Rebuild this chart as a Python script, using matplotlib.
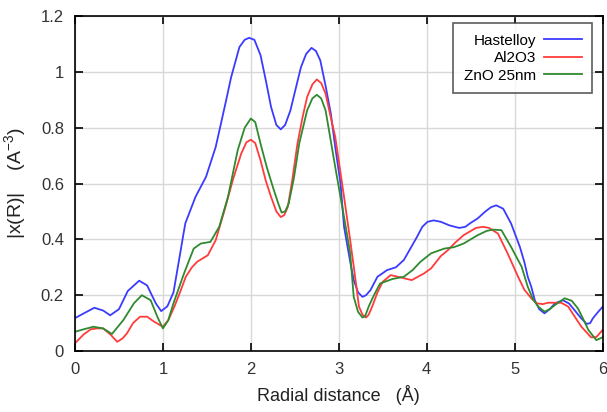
import matplotlib
matplotlib.use("Agg")
import matplotlib.pyplot as plt

# Hastelloy
x_blue = [0.0, 0.1, 0.22, 0.32, 0.4, 0.5, 0.6, 0.73, 0.82, 0.92, 0.98, 1.05, 1.12, 1.18, 1.235, 1.255,
          1.37, 1.49, 1.6, 1.66, 1.72, 1.775, 1.87, 1.93, 1.98, 2.04, 2.11, 2.17, 2.23, 2.29, 2.34, 2.39,
          2.45, 2.51, 2.57, 2.63, 2.69, 2.74, 2.79, 2.85, 2.91, 2.96, 3.02, 3.06, 3.13, 3.17, 3.22, 3.27,
          3.31, 3.36, 3.44, 3.55, 3.65, 3.74, 3.82, 3.89, 3.95, 4.01, 4.08, 4.16, 4.26, 4.37, 4.44, 4.5,
          4.58, 4.66, 4.73, 4.79, 4.87, 4.96, 5.06, 5.11, 5.15, 5.19, 5.23, 5.28, 5.34, 5.4, 5.46, 5.55,
          5.62, 5.68, 5.75, 5.82, 5.86, 5.89, 5.95, 6.0]
y_blue = [0.118, 0.135, 0.155, 0.145, 0.128, 0.15, 0.215, 0.252, 0.235, 0.17, 0.143, 0.16, 0.21, 0.32, 0.422, 0.458,
          0.552, 0.624, 0.731, 0.815, 0.9, 0.98, 1.089, 1.115, 1.122, 1.115, 1.06, 0.97, 0.874, 0.81, 0.794, 0.81,
          0.862, 0.94, 1.017, 1.065, 1.086, 1.075, 1.041, 0.95, 0.85, 0.73, 0.601, 0.445, 0.32, 0.254, 0.21, 0.194,
          0.2, 0.218, 0.266, 0.29, 0.30, 0.326, 0.37, 0.409, 0.445, 0.463, 0.468, 0.463, 0.45, 0.441, 0.445, 0.459,
          0.475, 0.498, 0.515, 0.522, 0.51, 0.457, 0.373, 0.32, 0.266, 0.23, 0.182, 0.15, 0.135, 0.15, 0.171, 0.182,
          0.17, 0.147, 0.12, 0.097, 0.1, 0.117, 0.14, 0.158]

# Al2O3
x_red = [0.0, 0.1, 0.18, 0.25, 0.32, 0.4, 0.48, 0.54, 0.59, 0.66, 0.74, 0.82, 0.9, 1.0, 1.06, 1.13,
         1.2, 1.26, 1.33, 1.39, 1.51, 1.6, 1.7, 1.8, 1.89, 1.95, 2.0, 2.05, 2.11, 2.17, 2.23, 2.29, 2.34,
         2.38, 2.42, 2.47, 2.53, 2.59, 2.64, 2.7, 2.75, 2.8, 2.85, 2.9, 2.96, 3.01, 3.06, 3.13, 3.18, 3.23,
         3.27, 3.31, 3.34, 3.38, 3.44, 3.5, 3.59, 3.7, 3.83, 3.97, 4.05, 4.16, 4.24, 4.33, 4.42, 4.56, 4.64,
         4.71, 4.81, 4.92, 5.04, 5.11, 5.19, 5.25, 5.32, 5.38, 5.46, 5.53, 5.61, 5.68, 5.76, 5.87, 5.93, 6.0]
y_red = [0.028, 0.06, 0.078, 0.081, 0.081, 0.06, 0.033, 0.045, 0.063, 0.1, 0.123, 0.123, 0.105, 0.087, 0.11, 0.159,
         0.215, 0.266, 0.3, 0.32, 0.343, 0.397, 0.504, 0.618, 0.707, 0.748, 0.757, 0.745, 0.683, 0.61, 0.552, 0.5, 0.48,
         0.487, 0.516, 0.61, 0.743, 0.84, 0.91, 0.955, 0.973, 0.96, 0.922, 0.85, 0.767, 0.66, 0.552, 0.397, 0.28, 0.159,
         0.13, 0.12, 0.13, 0.159, 0.21, 0.248, 0.272, 0.264, 0.254, 0.278, 0.296, 0.34, 0.361, 0.39, 0.415, 0.441, 0.445,
         0.441, 0.421, 0.35, 0.266, 0.22, 0.189, 0.171, 0.168, 0.173, 0.173, 0.173, 0.159, 0.125, 0.087, 0.049, 0.05, 0.075]

# ZnO 25nm
x_green = [0.0, 0.1, 0.21, 0.32, 0.42, 0.55, 0.67, 0.76, 0.86, 0.94, 1.0, 1.06, 1.12, 1.24, 1.35, 1.43,
           1.54, 1.64, 1.74, 1.85, 1.93, 2.0, 2.05, 2.11, 2.18, 2.25, 2.31, 2.35, 2.39, 2.43, 2.49, 2.55,
           2.64, 2.7, 2.75, 2.8, 2.85, 2.9, 2.96, 3.06, 3.13, 3.17, 3.22, 3.27, 3.3, 3.34, 3.4, 3.47, 3.61,
           3.74, 3.84, 3.93, 4.05, 4.2, 4.31, 4.42, 4.58, 4.68, 4.75, 4.85, 4.96, 5.08, 5.15, 5.21, 5.27,
           5.34, 5.4, 5.46, 5.57, 5.65, 5.72, 5.78, 5.84, 5.93, 6.0]
y_green = [0.069, 0.078, 0.087, 0.081, 0.061, 0.111, 0.171, 0.20, 0.182, 0.12, 0.081, 0.11, 0.171, 0.278, 0.367, 0.385,
           0.391, 0.445, 0.552, 0.719, 0.8, 0.833, 0.82, 0.743, 0.66, 0.588, 0.53, 0.496, 0.5, 0.528, 0.62, 0.743,
           0.862, 0.905, 0.918, 0.905, 0.862, 0.77, 0.659, 0.48, 0.35, 0.194, 0.14, 0.12, 0.125, 0.159, 0.2, 0.242, 0.258,
           0.266, 0.29, 0.32, 0.35, 0.367, 0.372, 0.385, 0.415, 0.43, 0.435, 0.433, 0.373, 0.302, 0.23, 0.185, 0.159,
           0.141, 0.15, 0.165, 0.189, 0.18, 0.153, 0.115, 0.075, 0.039, 0.049]

plt.rcParams['font.family'] = ['Liberation Sans', 'DejaVu Sans']
plt.rcParams['mathtext.fontset'] = 'custom'
plt.rcParams['mathtext.rm'] = 'Liberation Sans'
plt.rcParams['mathtext.it'] = 'Liberation Sans'

fig = plt.figure(figsize=(6.07, 4.12), dpi=100)
ax = fig.add_axes([0.1236, 0.148, 0.869, 0.813])

ax.plot(x_blue, y_blue, color='#3b3bff', lw=1.3, label='Hastelloy')
ax.plot(x_red, y_red, color='#ff3b3b', lw=1.3, label='Al2O3')
ax.plot(x_green, y_green, color='#2f8a2f', lw=1.3, label='ZnO 25nm')

ax.set_xlim(0, 6)
ax.set_ylim(0, 1.2)
ax.set_xticks([0, 1, 2, 3, 4, 5, 6])
ax.set_yticks([0, 0.2, 0.4, 0.6, 0.8, 1.0, 1.2])
ax.set_yticklabels(['0', '0.2', '0.4', '0.6', '0.8', '1', '1.2'])
ax.grid(True, color='#d8d8d8', lw=1.0)
ax.set_axisbelow(True)
ax.tick_params(direction='in', length=6, width=1.2, top=True, right=True,
               labelsize=12, labelcolor='#333333', pad=8)
for s in ax.spines.values():
    s.set_linewidth(1.2)

ax.set_xlabel('Radial distance   (Å)', fontsize=13, color='#222222', labelpad=6)
ax.set_ylabel('|x(R)|    (A$^{-3}$)', fontsize=14, color='#222222', labelpad=9)

leg = ax.legend(loc='upper right', markerfirst=False, fontsize=11, frameon=True,
                fancybox=False, edgecolor='#333333', handlelength=2.5,
                borderpad=0.7, labelspacing=0.22, handletextpad=0.5,
                borderaxespad=0.0, bbox_to_anchor=(0.981, 0.979))
leg.get_frame().set_linewidth(1.2)

fig.savefig('out.png', dpi=100)
